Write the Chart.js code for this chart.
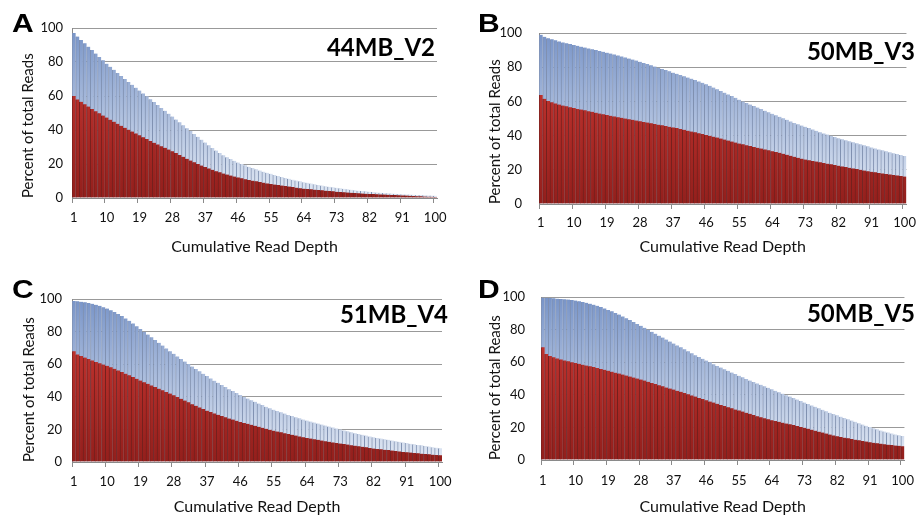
<!DOCTYPE html>
<html>
<head>
<meta charset="utf-8">
<script src="https://cdn.jsdelivr.net/npm/chart.js@4"></script>
<style>
    body {
        margin: 0;
        background: #fff;
        width: 922px;
        height: 517px;
        overflow: hidden;
        position: relative;
        font-family: Lato, sans-serif;
    }
    .panel { position: absolute; }
    .letter {
        position: absolute;
        font: bold 25px "Liberation Sans", Arial, sans-serif;
        line-height: 1;
        color: #000;
        transform: scaleX(1.2);
        transform-origin: left top;
    }
    .tag {
        position: absolute;
        font: bold 24px Lato, sans-serif;
        line-height: 1;
        color: #000;
        white-space: nowrap;
    }
</style>
</head>
<body>

<div class="panel" style="left:0;top:0;width:460px;height:258px"><canvas id="chartA"></canvas></div>
<div class="panel" style="left:460px;top:0;width:462px;height:258px"><canvas id="chartB"></canvas></div>
<div class="panel" style="left:0;top:258px;width:460px;height:259px"><canvas id="chartC"></canvas></div>
<div class="panel" style="left:460px;top:258px;width:462px;height:259px"><canvas id="chartD"></canvas></div>

<div class="letter" style="left:12px;top:11px">A</div>
<div class="letter" style="left:478px;top:11px">B</div>
<div class="letter" style="left:12px;top:277px">C</div>
<div class="letter" style="left:478px;top:277px">D</div>

<div class="tag" style="right:487px;top:35px">44MB_V2</div>
<div class="tag" style="right:7px;top:39px">50MB_V3</div>
<div class="tag" style="right:474px;top:302px">51MB_V4</div>
<div class="tag" style="right:7px;top:301px">50MB_V5</div>

<script>
"use strict";

// x categories: cumulative read depth 1..100
const depths = Array.from({length: 100}, (_, i) => i + 1);
const depthTickLabels = [1, 10, 19, 28, 37, 46, 55, 64, 73, 82, 91, 100];
const percentTicks = [0, 20, 40, 60, 80, 100];

// A: 44MB_V2
const totalA = [
    97.0, 95.0, 93.0, 91.0, 89.0, 87.0, 85.0, 83.0, 81.0, 79.0,
    77.2, 75.4, 73.6, 71.8, 70.0, 68.3, 66.6, 64.9, 63.2, 61.5,
    59.8, 58.1, 56.4, 54.7, 53.0, 51.3, 49.6, 47.9, 46.2, 44.5,
    42.8, 41.1, 39.4, 37.7, 36.0, 34.3, 32.6, 31.0, 29.4, 27.9,
    26.5, 25.2, 24.0, 22.9, 21.9, 20.9, 20.0, 19.2, 18.4, 17.6,
    16.9, 16.2, 15.5, 14.8, 14.2, 13.6, 13.0, 12.4, 11.8, 11.3,
    10.8, 10.3, 9.8, 9.3, 8.9, 8.5, 8.1, 7.7, 7.3, 6.9,
    6.6, 6.3, 6.0, 5.7, 5.4, 5.1, 4.8, 4.5, 4.3, 4.1,
    3.9, 3.7, 3.5, 3.3, 3.1, 2.9, 2.8, 2.6, 2.5, 2.3,
    2.2, 2.1, 2.0, 1.9, 1.8, 1.7, 1.6, 1.5, 1.4, 1.3
];
const uniqueA = [
    60.0, 58.0, 56.6, 55.2, 53.8, 52.4, 51.1, 49.8, 48.5, 47.3,
    46.1, 44.9, 43.7, 42.5, 41.3, 40.2, 39.1, 38.0, 36.9, 35.8,
    34.7, 33.6, 32.5, 31.5, 30.5, 29.5, 28.5, 27.5, 26.4, 25.3,
    24.2, 23.1, 22.0, 21.0, 20.0, 19.1, 18.2, 17.4, 16.6, 15.8,
    15.1, 14.4, 13.8, 13.2, 12.6, 12.1, 11.6, 11.1, 10.6, 10.2,
    9.8, 9.4, 9.0, 8.6, 8.2, 7.9, 7.6, 7.3, 7.0, 6.7,
    6.4, 6.1, 5.8, 5.5, 5.3, 5.1, 4.9, 4.7, 4.5, 4.3,
    4.1, 3.9, 3.7, 3.5, 3.4, 3.2, 3.1, 2.9, 2.8, 2.6,
    2.5, 2.4, 2.3, 2.2, 2.1, 2.0, 1.9, 1.8, 1.7, 1.6,
    1.5, 1.4, 1.3, 1.2, 1.1, 1.0, 0.9, 0.8, 0.7, 0.6
];

// B: 50MB_V3
const totalB = [
    99.0, 97.8, 97.0, 96.3, 95.7, 95.1, 94.5, 94.0, 93.5, 93.0,
    92.5, 92.0, 91.5, 91.0, 90.5, 90.0, 89.5, 89.0, 88.5, 88.0,
    87.5, 86.9, 86.3, 85.7, 85.1, 84.5, 83.9, 83.2, 82.5, 81.8,
    81.1, 80.4, 79.7, 79.0, 78.3, 77.6, 76.8, 76.1, 75.4, 74.7,
    74.0, 73.3, 72.5, 71.7, 70.9, 70.0, 69.1, 68.1, 67.1, 66.1,
    65.1, 64.1, 63.1, 62.1, 61.0, 60.0, 59.1, 58.2, 57.3, 56.4,
    55.5, 54.6, 53.7, 52.8, 51.9, 51.0, 50.1, 49.2, 48.3, 47.4,
    46.6, 45.9, 45.2, 44.4, 43.6, 42.8, 42.0, 41.3, 40.6, 39.9,
    39.2, 38.5, 37.9, 37.3, 36.7, 36.1, 35.5, 34.9, 34.3, 33.7,
    33.1, 32.5, 31.9, 31.4, 30.9, 30.3, 29.7, 29.2, 28.7, 28.1
];
const uniqueB = [
    63.8, 61.5, 60.3, 59.5, 58.8, 58.2, 57.6, 57.1, 56.6, 56.1,
    55.6, 55.2, 54.8, 54.3, 53.9, 53.4, 52.9, 52.5, 52.0, 51.6,
    51.2, 50.8, 50.4, 50.0, 49.6, 49.2, 48.8, 48.4, 48.0, 47.6,
    47.2, 46.8, 46.4, 46.0, 45.6, 45.2, 44.8, 44.4, 43.9, 43.4,
    42.9, 42.4, 41.9, 41.4, 40.9, 40.4, 39.9, 39.4, 38.9, 38.3,
    37.7, 37.1, 36.5, 35.9, 35.4, 34.9, 34.4, 33.9, 33.4, 32.9,
    32.4, 31.9, 31.4, 30.9, 30.4, 29.9, 29.4, 28.8, 28.2, 27.6,
    27.0, 26.5, 26.0, 25.6, 25.2, 24.8, 24.4, 24.0, 23.6, 23.2,
    22.8, 22.4, 22.0, 21.6, 21.2, 20.8, 20.4, 20.0, 19.6, 19.2,
    18.8, 18.5, 18.2, 17.9, 17.6, 17.3, 17.0, 16.7, 16.4, 16.1
];

// C: 51MB_V4
const totalC = [
    98.8, 98.6, 98.3, 98.0, 97.6, 97.1, 96.5, 95.8, 95.0, 94.1,
    93.1, 92.0, 90.8, 89.5, 88.1, 86.6, 85.0, 83.3, 81.6, 79.9,
    78.2, 76.5, 74.8, 73.1, 71.4, 69.7, 68.0, 66.4, 64.8, 63.2,
    61.6, 60.1, 58.6, 57.1, 55.6, 54.1, 52.7, 51.3, 49.9, 48.6,
    47.3, 46.0, 44.7, 43.5, 42.3, 41.1, 40.0, 38.9, 37.9, 36.9,
    35.9, 34.9, 33.9, 33.0, 32.1, 31.3, 30.5, 29.7, 28.9, 28.2,
    27.5, 26.8, 26.1, 25.4, 24.8, 24.2, 23.6, 23.0, 22.4, 21.8,
    21.2, 20.6, 20.0, 19.4, 18.8, 18.2, 17.7, 17.2, 16.7, 16.2,
    15.7, 15.2, 14.8, 14.4, 14.0, 13.6, 13.2, 12.8, 12.4, 12.0,
    11.6, 11.2, 10.9, 10.5, 10.2, 9.8, 9.5, 9.1, 8.8, 8.4
];
const uniqueC = [
    68.0, 66.0, 65.0, 64.1, 63.2, 62.3, 61.4, 60.6, 59.8, 59.0,
    58.1, 57.2, 56.2, 55.2, 54.2, 53.2, 52.1, 51.0, 50.0, 49.0,
    48.0, 47.0, 46.0, 45.0, 44.0, 43.0, 42.0, 41.0, 39.9, 38.8,
    37.7, 36.6, 35.5, 34.5, 33.5, 32.5, 31.5, 30.6, 29.8, 29.0,
    28.2, 27.4, 26.7, 26.0, 25.3, 24.6, 24.0, 23.4, 22.8, 22.2,
    21.6, 21.0, 20.4, 19.8, 19.2, 18.7, 18.2, 17.7, 17.2, 16.7,
    16.2, 15.7, 15.2, 14.8, 14.4, 14.0, 13.6, 13.2, 12.8, 12.4,
    12.0, 11.6, 11.3, 11.0, 10.7, 10.3, 10.0, 9.7, 9.3, 9.0,
    8.6, 8.3, 8.0, 7.8, 7.5, 7.3, 7.0, 6.8, 6.5, 6.2,
    6.0, 5.8, 5.5, 5.3, 5.1, 4.9, 4.7, 4.5, 4.3, 4.2
];

// D: 50MB_V5
const totalD = [
    99.6, 99.5, 99.4, 99.2, 99.0, 98.8, 98.6, 98.4, 98.1, 97.8,
    97.4, 97.0, 96.5, 95.9, 95.3, 94.6, 93.8, 93.0, 92.1, 91.2,
    90.2, 89.2, 88.1, 87.0, 85.9, 84.7, 83.5, 82.3, 81.1, 79.9,
    78.7, 77.5, 76.3, 75.1, 73.9, 72.7, 71.5, 70.3, 69.1, 67.9,
    66.7, 65.5, 64.3, 63.2, 62.1, 61.0, 59.9, 58.8, 57.7, 56.7,
    55.7, 54.7, 53.7, 52.7, 51.7, 50.7, 49.7, 48.8, 47.9, 47.0,
    46.1, 45.2, 44.3, 43.4, 42.5, 41.6, 40.7, 39.8, 38.9, 38.0,
    37.1, 36.2, 35.3, 34.4, 33.5, 32.6, 31.7, 30.8, 29.9, 29.0,
    28.2, 27.4, 26.6, 25.8, 25.0, 24.2, 23.4, 22.6, 21.8, 21.0,
    20.2, 19.5, 18.8, 18.1, 17.5, 16.9, 16.3, 15.7, 15.2, 14.7
];
const uniqueD = [
    69.2, 65.0, 63.8, 63.0, 62.3, 61.7, 61.1, 60.6, 60.0, 59.5,
    59.0, 58.5, 58.0, 57.5, 57.0, 56.5, 55.9, 55.3, 54.8, 54.2,
    53.6, 53.0, 52.4, 51.8, 51.2, 50.6, 50.0, 49.4, 48.7, 48.0,
    47.3, 46.6, 45.9, 45.2, 44.5, 43.8, 43.2, 42.5, 41.8, 41.1,
    40.3, 39.6, 38.9, 38.1, 37.4, 36.6, 35.9, 35.2, 34.5, 33.8,
    33.1, 32.4, 31.7, 31.0, 30.4, 29.7, 29.0, 28.3, 27.6, 26.9,
    26.2, 25.6, 25.0, 24.4, 23.9, 23.4, 22.9, 22.4, 21.9, 21.4,
    20.8, 20.3, 19.8, 19.2, 18.6, 18.0, 17.4, 16.8, 16.2, 15.6,
    15.1, 14.6, 14.1, 13.7, 13.3, 12.9, 12.5, 12.1, 11.7, 11.3,
    10.9, 10.6, 10.3, 10.0, 9.7, 9.4, 9.2, 8.9, 8.7, 8.5
];

const GRID = "#999999";
const AXIS = "#8a8a8a";
const TEXT = "#111";

function vGradient(context, topColor, bottomColor) {
    const chart = context.chart;
    const area = chart.chartArea;
    if (!area) {
        return topColor;
    }
    const g = chart.ctx.createLinearGradient(0, area.top, 0, area.bottom);
    g.addColorStop(0, topColor);
    g.addColorStop(1, bottomColor);
    return g;
}

// geo: layout numbers per panel, picked to line the plot area up with the figure
function makePanel(canvasId, total, unique, geo) {
    const ctx = document.getElementById(canvasId).getContext("2d");

    return new Chart(ctx, {
        type: "bar",
        data: {
            labels: depths,
            datasets: [
                {
                    label: "unique",
                    data: unique,
                    backgroundColor: c => vGradient(c, "#d23a35", "#931f1c"),
                    borderColor: "#74201d",
                    borderWidth: {left: 1, right: 0, top: 0, bottom: 0},
                    barPercentage: 1,
                    categoryPercentage: 1,
                    grouped: false,
                    order: 0
                },
                {
                    label: "total",
                    data: total,
                    backgroundColor: c => vGradient(c, "#7894c8", "#e2e9f4"),
                    borderColor: "#7f90b0",
                    borderWidth: {left: 1, right: 0, top: 0, bottom: 0},
                    barPercentage: 1,
                    categoryPercentage: 1,
                    grouped: false,
                    order: 1
                }
            ]
        },
        options: {
            responsive: true,
            maintainAspectRatio: false,
            animation: false,
            events: [],
            layout: {
                padding: {left: 0, top: geo.top, right: geo.right, bottom: 0}
            },
            plugins: {
                legend: {display: false},
                tooltip: {enabled: false}
            },
            scales: {
                x: {
                    offset: true,
                    border: {display: true, color: AXIS, width: 1},
                    grid: {
                        offset: true,
                        drawOnChartArea: false,
                        drawTicks: true,
                        tickLength: 5,
                        color: c => (c.index % 9 === 0 || c.index === depths.length) ? AXIS : "rgba(0,0,0,0)"
                    },
                    ticks: {
                        autoSkip: false,
                        maxRotation: 0,
                        minRotation: 0,
                        padding: geo.xTickPad,
                        color: TEXT,
                        font: {family: "Lato", size: 13},
                        callback: function (value, index) {
                            const d = depths[index];
                            return depthTickLabels.includes(d) ? String(d) : "";
                        }
                    },
                    title: {
                        display: true,
                        text: "Cumulative Read Depth",
                        color: TEXT,
                        font: {family: "Lato", size: 16},
                        padding: {top: 0, bottom: geo.xTitlePad}
                    },
                    afterFit: scale => { scale.height = geo.xHeight; }
                },
                y: {
                    min: 0,
                    max: 100,
                    border: {display: true, color: AXIS, width: 1},
                    grid: {
                        color: GRID,
                        lineWidth: 1,
                        drawTicks: false
                    },
                    afterBuildTicks: scale => {
                        scale.ticks = percentTicks.map(v => ({value: v}));
                    },
                    ticks: {
                        padding: geo.yTickPad,
                        color: TEXT,
                        font: {family: "Lato", size: 13}
                    },
                    title: {
                        display: true,
                        text: "Percent of total Reads",
                        align: "start",
                        color: TEXT,
                        font: {family: "Lato", size: 15},
                        padding: {top: geo.yTitlePad, bottom: 0}
                    },
                    afterFit: scale => { scale.width = geo.yWidth; }
                }
            }
        }
    });
}

makePanel("chartA", totalA, uniqueA, {top: 28, right: 23, yWidth: 72, xHeight: 60, yTickPad: 9, yTitlePad: 19, xTickPad: 7, xTitlePad: 2});
makePanel("chartB", totalB, uniqueB, {top: 33, right: 14, yWidth: 79, xHeight: 54, yTickPad: 17, yTitlePad: 26, xTickPad: 6, xTitlePad: 2});
makePanel("chartC", totalC, uniqueC, {top: 41, right: 18, yWidth: 72, xHeight: 55, yTickPad: 10, yTitlePad: 20, xTickPad: 7, xTitlePad: 1});
makePanel("chartD", totalD, uniqueD, {top: 39, right: 10, yWidth: 81, xHeight: 57, yTickPad: 16, yTitlePad: 26, xTickPad: 8, xTitlePad: 1});
</script>
</body>
</html>
